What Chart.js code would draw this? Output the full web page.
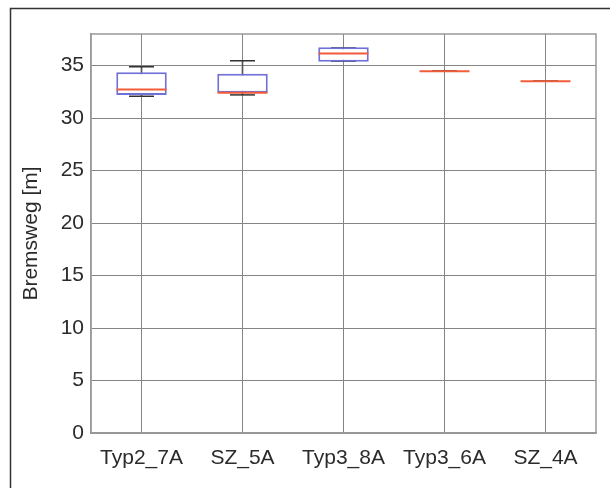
<!DOCTYPE html>
<html>
<head>
<meta charset="utf-8">
<script src="https://cdn.jsdelivr.net/npm/chart.js@4/dist/chart.umd.min.js"></script>
<style>
  html, body { margin: 0; padding: 0; background: #fff; }
  #wrap { position: relative; width: 610px; height: 488px; }
</style>
</head>
<body>
<div id="wrap"><canvas id="chartjs" width="610" height="488"></canvas></div>
<script>
// box plot data
const categories = ['Typ2_7A', 'SZ_5A', 'Typ3_8A', 'Typ3_6A', 'SZ_4A'];
const whiskerLow  = [32.07, 32.2, 35.42, 34.46, 33.5];
const q1          = [32.2, 32.4, 35.35, 34.46, 33.5];
const median      = [32.71, 32.4, 36.14, 34.46, 33.5];
const q3          = [34.36, 34.22, 36.74, 34.46, 33.5];
const whiskerHigh = [34.88, 35.45, 36.67, 34.46, 33.5];
const yTicks = [0, 5, 10, 15, 20, 25, 30, 35];

const textColor = '#2b2b2b';
const gridColor = '#858585';
const font = { family: "'Liberation Sans', Arial, sans-serif", size: 21 };

// outer frame + top/right plot border
const framePlugin = {
  id: 'frame',
  beforeDraw(chart) {
    const ctx = chart.ctx;
    ctx.save();
    ctx.strokeStyle = '#333';
    ctx.lineWidth = 1.5;
    ctx.beginPath();
    ctx.moveTo(10.5, 488);
    ctx.lineTo(10.5, 8.5);
    ctx.lineTo(610, 8.5);
    ctx.stroke();
    ctx.restore();
  },
  beforeDatasetsDraw(chart) {
    const a = chart.chartArea;
    const ctx = chart.ctx;
    ctx.save();
    ctx.strokeStyle = '#999';
    ctx.lineWidth = 1.5;
    ctx.strokeRect(a.left, a.top, a.right - a.left, a.bottom - a.top);
    ctx.restore();
  }
};

const capStyle = {
  type: 'line',
  showLine: false,
  pointStyle: 'line',
  pointRadius: 12.5,
  pointBorderColor: '#333',
  pointBorderWidth: 1.5,
  order: 5
};

new Chart(document.getElementById('chartjs').getContext('2d'), {
  type: 'bar',
  data: {
    labels: categories,
    datasets: [
      {
        // whiskers
        data: categories.map((c, i) => [whiskerLow[i], whiskerHigh[i]]),
        backgroundColor: '#555',
        barThickness: 1,
        grouped: false,
        order: 6
      },
      Object.assign({ data: whiskerHigh }, capStyle),
      Object.assign({ data: whiskerLow }, capStyle),
      {
        // boxes
        data: categories.map((c, i) => [q1[i], q3[i]]),
        backgroundColor: '#fff',
        borderColor: '#7070d8',
        borderWidth: 2,
        borderSkipped: false,
        barPercentage: 0.5,
        categoryPercentage: 1,
        grouped: false,
        order: 3
      },
      {
        // medians
        type: 'line',
        data: median,
        showLine: false,
        pointStyle: 'line',
        pointRadius: 25,
        pointBorderColor: '#f25c3a',
        pointBorderWidth: 2,
        order: 0
      }
    ]
  },
  options: {
    responsive: false,
    animation: false,
    events: [],
    layout: { autoPadding: false, padding: { left: 10, top: 34, right: 14, bottom: 0 } },
    plugins: {
      legend: { display: false },
      tooltip: { enabled: false }
    },
    scales: {
      x: {
        offset: true,
        grid: { offset: false, color: gridColor, drawTicks: false },
        border: { color: '#999', width: 1.5 },
        ticks: { font: font, color: textColor, padding: 13, autoSkip: false, maxRotation: 0 },
        afterFit(scale) {
          scale.height = 55;
          scale.paddingLeft = 0;
          scale.paddingRight = 0;
        }
      },
      y: {
        min: 0,
        max: 38,
        afterBuildTicks(scale) { scale.ticks = yTicks.map(v => ({ value: v })); },
        grid: { color: gridColor, drawTicks: false },
        border: { color: '#999', width: 1.5 },
        ticks: { font: font, color: textColor, padding: 7 },
        title: {
          display: true,
          text: 'Bremsweg [m]',
          font: font,
          color: textColor,
          padding: { top: 9, bottom: 0 }
        },
        afterFit(scale) {
          scale.width = 81;
          scale.paddingTop = 0;
          scale.paddingBottom = 0;
        }
      }
    }
  },
  plugins: [framePlugin]
});
</script>
</body>
</html>
